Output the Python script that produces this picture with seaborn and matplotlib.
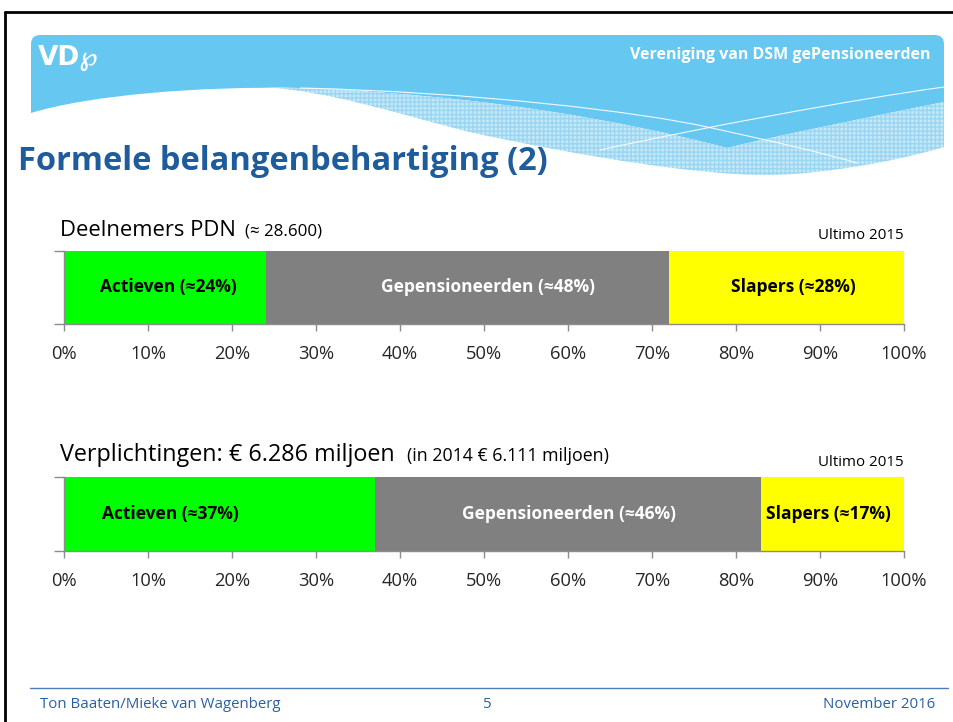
import matplotlib
matplotlib.use("Agg")
import matplotlib.pyplot as plt
import seaborn as sns
import pandas as pd
from matplotlib.patches import PathPatch
from matplotlib.path import Path
from matplotlib.lines import Line2D

# --- data ---
categories = ["Actieven", "Gepensioneerden", "Slapers"]
deelnemers_pct = [24, 48, 28]
verplichtingen_pct = [37, 46, 17]
tick_values = [0, 10, 20, 30, 40, 50, 60, 70, 80, 90, 100]
tick_labels = ["0%", "10%", "20%", "30%", "40%", "50%", "60%", "70%", "80%", "90%", "100%"]

# label positions (percent of axis) as placed on the slide
deelnemers_label_x = [12.4, 50.5, 86.8]
verplichtingen_label_x = [12.7, 60.1, 91.0]

seg_colors = ["#00FF00", "#808080", "#FFFF00"]
label_colors = ["black", "white", "black"]
title_blue = "#1F5C9B"
footer_blue = "#2B5FA3"
banner_blue = "#66C8F1"
FONT = "Open Sans"

sns.set_style("white")
plt.rcParams["font.family"] = [FONT, "DejaVu Sans"]

W, H = 954, 722
fig = plt.figure(figsize=(W / 100, H / 100), dpi=100)


def px(x, y):
    return (x / W, 1 - y / H)


def fig_path(points, codes, **kw):
    path = Path([px(*p) for p in points], codes)
    fig.add_artist(PathPatch(path, transform=fig.transFigure, **kw))


M, L, C, Z = Path.MOVETO, Path.LINETO, Path.CURVE4, Path.CLOSEPOLY

# --- slide frame ---
fig.add_artist(Line2D([5 / W, 1], [1 - 12 / H] * 2, color="black", lw=2, transform=fig.transFigure))
fig.add_artist(Line2D([5 / W] * 2, [0, 1 - 12 / H], color="black", lw=2, transform=fig.transFigure))

# --- header banner ---
band_pts = [(31, 113), (31, 45), (31, 38), (34, 35), (41, 35), (934, 35), (941, 35), (944, 38),
            (944, 45), (944, 102), (880, 115), (780, 135), (727, 148), (620, 120), (480, 95),
            (300, 88), (200, 86), (90, 95), (31, 113), (31, 113)]
band_codes = [M, L, C, C, C, L, C, C, C, L, C, C, C, C, C, C, C, C, C, Z]
fig_path(band_pts, band_codes, facecolor=banner_blue, edgecolor="none")

mesh_pts = [(260, 87), (300, 88), (480, 95), (620, 120), (727, 148), (780, 135), (880, 115),
            (944, 102), (944, 147), (880, 166), (800, 176), (760, 175), (700, 174), (600, 160),
            (474, 133), (400, 115), (330, 90), (260, 87), (260, 87)]
mesh_codes = [M, L, C, C, C, C, C, C, L, C, C, C, C, C, C, C, C, C, Z]
fig_path(mesh_pts, mesh_codes, facecolor="#C4E8F8", edgecolor="#9AD6F2", hatch="++++", lw=0)

fig_path([(300, 88), (474, 92), (640, 112), (707, 127), (767, 140), (820, 152), (857, 163)],
         [M, C, C, C, C, C, C], facecolor="none", edgecolor="white", lw=0.8, alpha=0.9)
fig_path([(600, 150), (700, 128), (850, 100), (944, 87)],
         [M, C, C, C], facecolor="none", edgecolor="white", lw=0.8, alpha=0.9)

fig.text(*px(38, 58), "VD\u2118", color="white", fontsize=19, fontweight="bold",
         va="center", ha="left", family="DejaVu Sans")
fig.text(*px(931, 55), "Vereniging van DSM gePensioneerden", color="white", fontsize=11.5,
         fontweight="bold", va="center", ha="right")

fig.text(*px(18, 161), "Formele belangenbehartiging (2)", color=title_blue, fontsize=23.5,
         fontweight="bold", va="center", ha="left")


# --- stacked bars ---
def stacked_bar(ax, values, label_x):
    cum = pd.Series(values).cumsum().tolist()
    # draw cumulative bars from the longest to the shortest so they stack
    for i in reversed(range(len(values))):
        df = pd.DataFrame({"pct": [cum[i]], "row": ["r"]})
        sns.barplot(data=df, x="pct", y="row", orient="h", color=seg_colors[i],
                    saturation=1, width=1.0, linewidth=0, ax=ax)
    for i, cat in enumerate(categories):
        ax.text(label_x[i], 0, f"{cat} (\u2248{values[i]}%)", color=label_colors[i],
                fontsize=12.5, fontweight="bold", ha="center", va="center")
    ax.set_xlim(0, 100)
    ax.set_ylim(0.5, -0.5)
    ax.set_xticks(tick_values, labels=tick_labels)
    ax.set_yticks([-0.5, 0.5], labels=["", ""])
    ax.set_xlabel("")
    ax.set_ylabel("")
    for s in ["top", "right"]:
        ax.spines[s].set_visible(False)
    for s in ["left", "bottom"]:
        ax.spines[s].set_color("#8C8C8C")
        ax.spines[s].set_linewidth(1)
    ax.tick_params(axis="x", direction="out", length=5, width=1, color="#8C8C8C",
                   labelsize=13.2, pad=10, bottom=True)
    ax.tick_params(axis="y", direction="out", length=7, width=1, color="#8C8C8C", left=True)


ax1 = fig.add_axes([64 / W, 1 - 324 / H, 840 / W, 73 / H])
stacked_bar(ax1, deelnemers_pct, deelnemers_label_x)
ax2 = fig.add_axes([64 / W, 1 - 551 / H, 840 / W, 74 / H])
stacked_bar(ax2, verplichtingen_pct, verplichtingen_label_x)

# chart headings
fig.text(*px(60, 236), "Deelnemers PDN", fontsize=15.8, ha="left", va="baseline", color="black")
fig.text(*px(245, 236), "(\u2248 28.600)", fontsize=12.2, ha="left", va="baseline", color="black")
fig.text(*px(904, 239), "Ultimo 2015", fontsize=10.9, ha="right", va="baseline", color="black")

fig.text(*px(60, 461), "Verplichtingen: \u20ac 6.286 miljoen", fontsize=16.8, ha="left",
         va="baseline", color="black")
fig.text(*px(407, 461), "(in 2014 \u20ac 6.111 miljoen)", fontsize=12.8, ha="left",
         va="baseline", color="black")
fig.text(*px(904, 466), "Ultimo 2015", fontsize=10.9, ha="right", va="baseline", color="black")

# --- footer ---
fig.add_artist(Line2D([30 / W, 948 / W], [1 - 688 / H] * 2, color="#4A7EBB", lw=1,
                      transform=fig.transFigure))
fig.text(*px(40, 705), "Ton Baaten/Mieke van Wagenberg", fontsize=10.8, color=footer_blue,
         ha="left", va="center")
fig.text(*px(487, 705), "5", fontsize=10.8, color=footer_blue, ha="center", va="center")
fig.text(*px(935, 705), "November 2016", fontsize=10.8, color=footer_blue, ha="right", va="center")

fig.savefig("out.png", dpi=100)
